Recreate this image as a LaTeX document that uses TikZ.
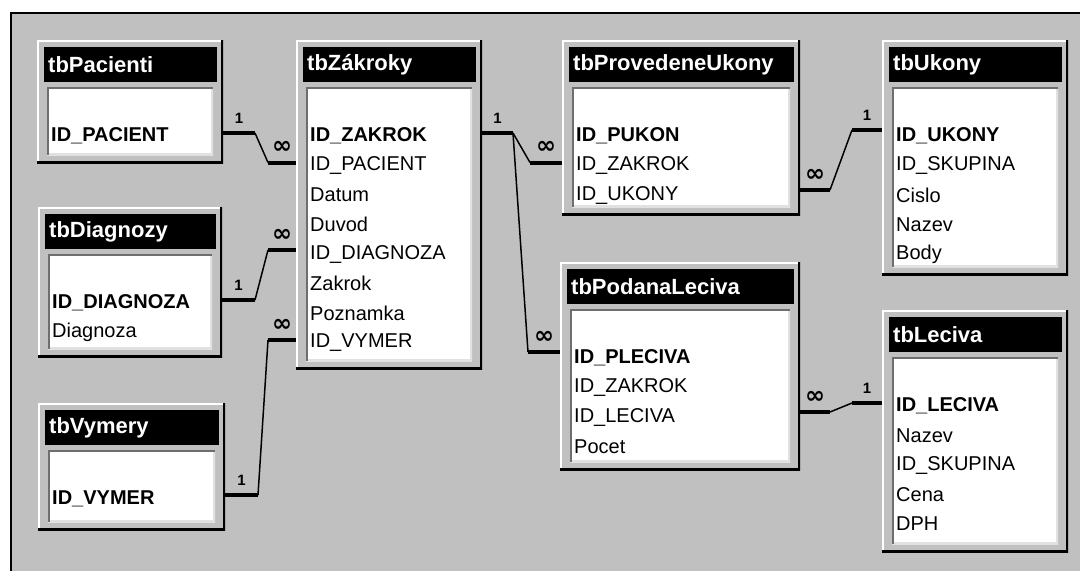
\documentclass[tikz,border=0pt]{standalone}
\usepackage{fontspec}
\setmainfont{Liberation Sans}
\newfontfamily\symfont{DejaVu Sans}
\usepackage{xcolor}
\usetikzlibrary{calc}

\definecolor{wingray}{RGB}{192,192,192}
\definecolor{windark}{RGB}{110,110,110}
\definecolor{winlight}{RGB}{225,225,225}

\begin{document}
\begin{tikzpicture}[
    x=1pt, y=1pt,
    tabbox/.style={anchor=north west, fill=wingray, inner sep=0pt, outer sep=0pt,
                   path picture={
                     \draw[white, line width=4pt] (path picture bounding box.south west) |- (path picture bounding box.north east);
                     \draw[black, line width=4pt] (path picture bounding box.north east) |- (path picture bounding box.south west);}},
    tabtitle/.style={anchor=north west, fill=black, text=white, minimum height=35pt,
                     inner xsep=4pt, inner ysep=0pt, align=left,
                     font=\fontsize{22}{26}\selectfont\bfseries},
    fldlist/.style={anchor=north west, fill=white, inner sep=0pt, outer sep=0pt,
                    path picture={
                      \draw[winlight, line width=4pt] (path picture bounding box.north east) |- (path picture bounding box.south west);
                      \draw[windark, line width=4pt] (path picture bounding box.south west) |- (path picture bounding box.north east);}},
    fld/.style={anchor=west, inner sep=0pt, font=\fontsize{20}{24}\selectfont},
    onearm/.style={line width=4pt},
    manyarm/.style={line width=4pt},
    link/.style={line width=1.5pt},
    cardone/.style={midway, above=8pt, inner sep=0pt, font=\fontsize{15}{15}\selectfont\bfseries},
    cardmany/.style={midway, above=7pt, inner sep=0pt, font=\symfont\fontsize{24}{24}\selectfont\bfseries},
]
\useasboundingbox (0,0) rectangle (1080,-571);
\fill[white] (0,0) rectangle (1080,-571);
\fill[wingray] (10,-12) rectangle (1080,-571);
\draw[line width=2pt] (11,-571) -- (11,-13) -- (1080,-13);

% tbPacienti
\node[tabbox, minimum width=186pt, minimum height=123pt] (pac) at (37,-40) {};
\node[tabtitle, text width=165pt] (pac-t) at ([shift={(7,-7)}]pac.north west) {tbPacienti};
\node[fldlist, minimum width=166pt, minimum height=68pt] (pac-f) at ([shift={(10,-47)}]pac.north west) {};
\foreach \f [count=\i] in {\textbf{ID\_PACIENT}}
  \node[fld] (pac-\i) at ([shift={(14,{-66.5-29.5*\i})}]pac.north west) {\f};

% tbZakroky
\node[tabbox, minimum width=186pt, minimum height=329pt] (zak) at (296,-40) {};
\node[tabtitle, text width=165pt] (zak-t) at ([shift={(7,-7)}]zak.north west) {tbZákroky};
\node[fldlist, minimum width=166pt, minimum height=274pt] (zak-f) at ([shift={(10,-47)}]zak.north west) {};
\foreach \f [count=\i] in {\textbf{ID\_ZAKROK}, ID\_PACIENT, Datum, Duvod, ID\_DIAGNOZA, Zakrok, Poznamka, ID\_VYMER}
  \node[fld] (zak-\i) at ([shift={(14,{-66.5-29.5*\i})}]zak.north west) {\f};

% tbProvedeneUkony
\node[tabbox, minimum width=238pt, minimum height=175pt] (pu) at (562,-40) {};
\node[tabtitle, text width=217pt] (pu-t) at ([shift={(7,-7)}]pu.north west) {tbProvedeneUkony};
\node[fldlist, minimum width=218pt, minimum height=120pt] (pu-f) at ([shift={(10,-47)}]pu.north west) {};
\foreach \f [count=\i] in {\textbf{ID\_PUKON}, ID\_ZAKROK, ID\_UKONY}
  \node[fld] (pu-\i) at ([shift={(14,{-66.5-29.5*\i})}]pu.north west) {\f};

% tbUkony
\node[tabbox, minimum width=186pt, minimum height=235pt] (uk) at (882,-40) {};
\node[tabtitle, text width=165pt] (uk-t) at ([shift={(7,-7)}]uk.north west) {tbUkony};
\node[fldlist, minimum width=166pt, minimum height=180pt] (uk-f) at ([shift={(10,-47)}]uk.north west) {};
\foreach \f [count=\i] in {\textbf{ID\_UKONY}, ID\_SKUPINA, Cislo, Nazev, Body}
  \node[fld] (uk-\i) at ([shift={(14,{-66.5-29.5*\i})}]uk.north west) {\f};

% tbDiagnozy
\node[tabbox, minimum width=184pt, minimum height=150pt] (dia) at (38,-207) {};
\node[tabtitle, text width=163pt] (dia-t) at ([shift={(7,-7)}]dia.north west) {tbDiagnozy};
\node[fldlist, minimum width=164pt, minimum height=95pt] (dia-f) at ([shift={(10,-47)}]dia.north west) {};
\foreach \f [count=\i] in {\textbf{ID\_DIAGNOZA}, Diagnoza}
  \node[fld] (dia-\i) at ([shift={(14,{-66.5-29.5*\i})}]dia.north west) {\f};

% tbVymery
\node[tabbox, minimum width=187pt, minimum height=127pt] (vym) at (38,-403) {};
\node[tabtitle, text width=166pt] (vym-t) at ([shift={(7,-7)}]vym.north west) {tbVymery};
\node[fldlist, minimum width=167pt, minimum height=72pt] (vym-f) at ([shift={(10,-47)}]vym.north west) {};
\foreach \f [count=\i] in {\textbf{ID\_VYMER}}
  \node[fld] (vym-\i) at ([shift={(14,{-66.5-29.5*\i})}]vym.north west) {\f};

% tbPodanaLeciva
\node[tabbox, minimum width=240pt, minimum height=208pt] (pl) at (560,-262) {};
\node[tabtitle, text width=219pt] (pl-t) at ([shift={(7,-7)}]pl.north west) {tbPodanaLeciva};
\node[fldlist, minimum width=220pt, minimum height=153pt] (pl-f) at ([shift={(10,-47)}]pl.north west) {};
\foreach \f [count=\i] in {\textbf{ID\_PLECIVA}, ID\_ZAKROK, ID\_LECIVA, Pocet}
  \node[fld] (pl-\i) at ([shift={(14,{-66.5-29.5*\i})}]pl.north west) {\f};

% tbLeciva
\node[tabbox, minimum width=186pt, minimum height=242pt] (lec) at (882,-310) {};
\node[tabtitle, text width=165pt] (lec-t) at ([shift={(7,-7)}]lec.north west) {tbLeciva};
\node[fldlist, minimum width=166pt, minimum height=187pt] (lec-f) at ([shift={(10,-47)}]lec.north west) {};
\foreach \f [count=\i] in {\textbf{ID\_LECIVA}, Nazev, ID\_SKUPINA, Cena, DPH}
  \node[fld] (lec-\i) at ([shift={(14,{-66.5-29.5*\i})}]lec.north west) {\f};

% relationships
\draw[onearm] ([yshift=3]pac.east |- pac-1) -- ++(32,0) node[cardone] {1} coordinate (r1a);
\draw[manyarm] ([yshift=3]zak.west |- zak-2) -- ++(-28,0) node[cardmany] {∞} coordinate (r1b);
\draw[link] (r1a) -- (r1b);

\draw[onearm] ([yshift=3]dia.east |- dia-1) -- ++(33,0) node[cardone] {1} coordinate (r2a);
\draw[manyarm] ([yshift=4]zak.west |- zak-5) -- ++(-28,0) node[cardmany] {∞} coordinate (r2b);
\draw[link] (r2a) -- (r2b);

\draw[onearm] ([yshift=4]vym.east |- vym-1) -- ++(33,0) node[cardone] {1} coordinate (r3a);
\draw[manyarm] ([yshift=2.5]zak.west |- zak-8) -- ++(-28,0) node[cardmany] {∞} coordinate (r3b);
\draw[link] (r3a) -- (r3b);

\draw[onearm] ([yshift=3]zak.east |- zak-1) -- ++(31,0) node[cardone] {1} coordinate (r4a);
\draw[manyarm] ([yshift=3]pu.west |- pu-2) -- ++(-32,0) node[cardmany] {∞} coordinate (r4b);
\draw[link] (r4a) -- (r4b);
\draw[manyarm] ([yshift=6]pl.west |- pl-1) -- ++(-32,0) node[cardmany] {∞} coordinate (r5b);
\draw[link] (r4a) -- (r5b);

\draw[manyarm] ([yshift=5]pu.east |- pu-3) -- ++(30,0) node[cardmany] {∞} coordinate (r6a);
\draw[onearm] ([yshift=6]uk.west |- uk-1) -- ++(-30,0) node[cardone] {1} coordinate (r6b);
\draw[link] (r6a) -- (r6b);

\draw[manyarm] ([yshift=5]pl.east |- pl-3) -- ++(30,0) node[cardmany] {∞} coordinate (r7a);
\draw[onearm] ([yshift=3]lec.west |- lec-1) -- ++(-30,0) node[cardone] {1} coordinate (r7b);
\draw[link] (r7a) -- (r7b);
\end{tikzpicture}
\end{document}
